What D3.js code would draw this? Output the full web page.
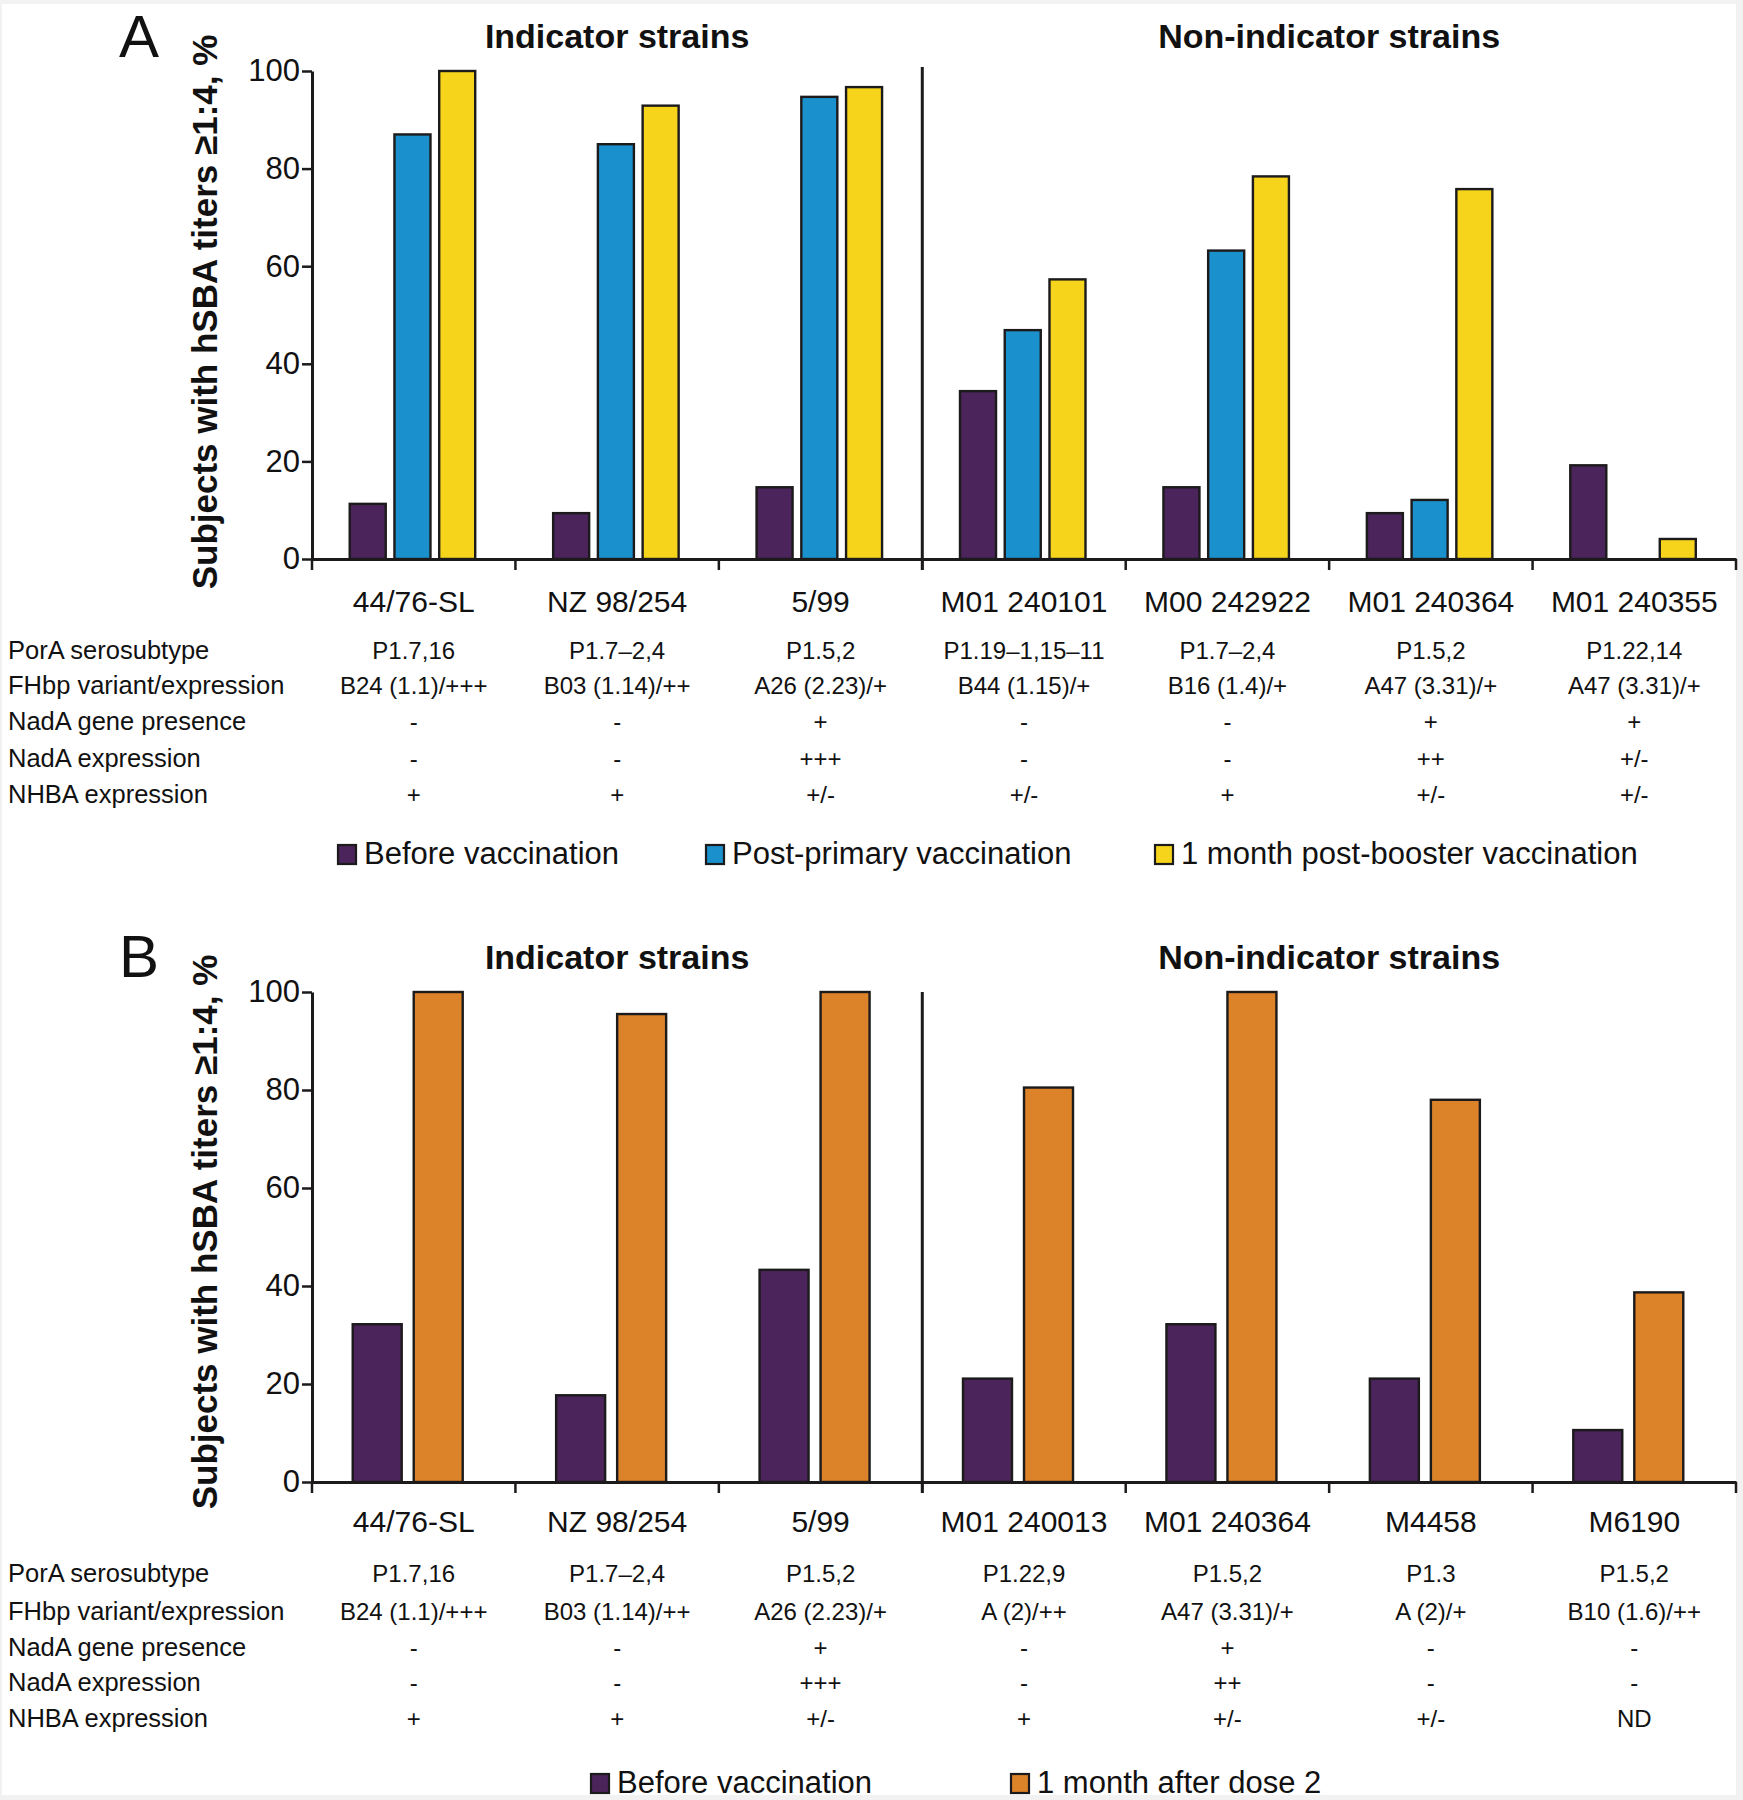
<!DOCTYPE html>
<html>
<head>
<meta charset="utf-8">
<script src="https://cdn.jsdelivr.net/npm/d3@7"></script>
<style>
  html, body { margin: 0; padding: 0; background: #ffffff; }
  svg { display: block; }
  text { font-family: "Liberation Sans", Arial, Helvetica, sans-serif; fill: #111; }
</style>
</head>
<body>
<svg id="chart" width="1743" height="1800"></svg>
<script>
// ---------------- DATA ----------------
const categoriesA = ["44/76-SL", "NZ 98/254", "5/99", "M01 240101", "M00 242922", "M01 240364", "M01 240355"];
const beforeA      = [11.3, 9.4, 14.7, 34.4, 14.7, 9.4, 19.2];
const postPrimaryA = [87.0, 85.0, 94.7, 46.9, 63.2, 12.1, null];
const boosterA     = [100, 92.9, 96.7, 57.3, 78.4, 75.8, 4.1];

const categoriesB = ["44/76-SL", "NZ 98/254", "5/99", "M01 240013", "M01 240364", "M4458", "M6190"];
const beforeB = [32.2, 17.7, 43.3, 21.1, 32.2, 21.1, 10.6];
const dose2B  = [100, 95.5, 100, 80.5, 100, 78.0, 38.7];

const rowLabels = ["PorA serosubtype", "FHbp variant/expression", "NadA gene presence", "NadA expression", "NHBA expression"];

const poraA   = ["P1.7,16", "P1.7\u20132,4", "P1.5,2", "P1.19\u20131,15\u201311", "P1.7\u20132,4", "P1.5,2", "P1.22,14"];
const fhbpA   = ["B24 (1.1)/+++", "B03 (1.14)/++", "A26 (2.23)/+", "B44 (1.15)/+", "B16 (1.4)/+", "A47 (3.31)/+", "A47 (3.31)/+"];
const nadaGeneA = ["-", "-", "+", "-", "-", "+", "+"];
const nadaExprA = ["-", "-", "+++", "-", "-", "++", "+/-"];
const nhbaA     = ["+", "+", "+/-", "+/-", "+", "+/-", "+/-"];

const poraB   = ["P1.7,16", "P1.7\u20132,4", "P1.5,2", "P1.22,9", "P1.5,2", "P1.3", "P1.5,2"];
const fhbpB   = ["B24 (1.1)/+++", "B03 (1.14)/++", "A26 (2.23)/+", "A (2)/++", "A47 (3.31)/+", "A (2)/+", "B10 (1.6)/++"];
const nadaGeneB = ["-", "-", "+", "-", "+", "-", "-"];
const nadaExprB = ["-", "-", "+++", "-", "++", "-", "-"];
const nhbaB     = ["+", "+", "+/-", "+", "+/-", "+/-", "ND"];

const yTicks = [0, 20, 40, 60, 80, 100];
const groupTitles = ["Indicator strains", "Non-indicator strains"];
const yLabel = "Subjects with hSBA titers \u22651:4, %";

const seriesA = [
  { name: "Before vaccination", values: beforeA, color: "#4a245b" },
  { name: "Post-primary vaccination", values: postPrimaryA, color: "#1a91cd" },
  { name: "1 month post-booster vaccination", values: boosterA, color: "#f6d41c" }
];
const seriesB = [
  { name: "Before vaccination", values: beforeB, color: "#4a245b" },
  { name: "1 month after dose 2", values: dose2B, color: "#dc8228" }
];

// ---------------- DRAW ----------------
const svg = d3.select("#chart");
svg.append("rect").attr("width", 1743).attr("height", 1800).attr("fill", "#f2f2f2");
svg.append("rect").attr("x", 2).attr("y", 4).attr("width", 1734).attr("height", 1791).attr("fill", "#ffffff");

const X0 = 312, X1 = 1736;
const INK = "#1c1a1b";

function panel(opts) {
  const { letter, letterY, top, bottom, cats, series, innerRange, barPad, rows, rowOffsets,
          catLabelOffset, legendX, legendY, titleY, dividerTop, yLabelCenter } = opts;
  const g = svg.append("g");

  const x = d3.scaleBand().domain(cats).range([X0, X1]).paddingInner(0).paddingOuter(0);
  const y = d3.scaleLinear().domain([0, 100]).range([bottom, top]);
  const bw = x.bandwidth();
  const xi = d3.scaleBand().domain(series.map(s => s.name))
    .range([bw / 2 + innerRange[0], bw / 2 + innerRange[1]])
    .paddingInner(barPad).paddingOuter(0);

  // panel letter
  g.append("text").attr("x", 119).attr("y", letterY)
    .style("font-size", "60px").text(letter);

  // group titles
  const indMid = (x(cats[0]) + x(cats[2]) + bw) / 2;
  const nonMid = (x(cats[3]) + x(cats[6]) + bw) / 2;
  [[groupTitles[0], indMid], [groupTitles[1], nonMid]].forEach(([t, cx]) => {
    g.append("text").attr("x", cx).attr("y", titleY).attr("text-anchor", "middle")
      .style("font-size", "34px").style("font-weight", "bold").text(t);
  });

  // bars
  series.forEach(s => {
    g.append("g").selectAll("rect")
      .data(cats.map((c, i) => ({ c, v: s.values[i] })).filter(d => d.v !== null && d.v !== undefined))
      .join("rect")
      .attr("x", d => x(d.c) + xi(s.name))
      .attr("width", xi.bandwidth())
      .attr("y", d => y(d.v))
      .attr("height", d => y(0) - y(d.v))
      .attr("fill", s.color)
      .attr("stroke", INK)
      .attr("stroke-width", 2.4);
  });

  // y axis
  const yAxis = d3.axisLeft(y).tickValues(yTicks).tickSize(10).tickPadding(2).tickSizeOuter(0);
  const ya = g.append("g").attr("transform", `translate(${X0},0)`).call(yAxis);
  ya.select(".domain").attr("stroke", INK).attr("stroke-width", 3);
  ya.selectAll(".tick line").attr("stroke", INK).attr("stroke-width", 2.5);
  ya.selectAll(".tick text").style("font-size", "31px").attr("fill", "#111")
    .style("font-family", "\"Liberation Sans\", Arial, sans-serif");

  // x axis (baseline + category labels)
  const xAxis = d3.axisBottom(x).tickSize(0).tickSizeOuter(0);
  const xa = g.append("g").attr("transform", `translate(0,${y(0)})`).call(xAxis);
  xa.select(".domain").attr("stroke", INK).attr("stroke-width", 3.2);
  xa.selectAll(".tick text").attr("y", catLabelOffset).attr("dy", 0)
    .style("font-size", "30px").attr("fill", "#111")
    .style("font-family", "\"Liberation Sans\", Arial, sans-serif");

  // group separator ticks below axis
  const bounds = cats.map(c => x(c)).concat([x.range()[1]]);
  g.append("g").selectAll("line").data(bounds).join("line")
    .attr("x1", d => d).attr("x2", d => d)
    .attr("y1", y(0)).attr("y2", y(0) + 11)
    .attr("stroke", INK).attr("stroke-width", 2.5);

  // divider between indicator and non-indicator strains
  const dx = x(cats[3]);
  g.append("line").attr("x1", dx).attr("x2", dx)
    .attr("y1", dividerTop).attr("y2", y(0) + 11)
    .attr("stroke", INK).attr("stroke-width", 3);

  // y label
  g.append("text")
    .attr("transform", `translate(217,${yLabelCenter}) rotate(-90)`)
    .attr("text-anchor", "middle")
    .style("font-size", "35px").style("font-weight", "bold")
    .text(yLabel);

  // table rows
  rowLabels.forEach((lab, r) => {
    const yy = y(0) + rowOffsets[r];
    g.append("text").attr("x", 8).attr("y", yy).style("font-size", "25.5px").text(lab);
    g.append("g").selectAll("text").data(cats).join("text")
      .attr("x", c => x(c) + bw / 2).attr("y", yy)
      .attr("text-anchor", "middle").style("font-size", "24px")
      .text((c, i) => rows[r][i]);
  });

  // legend
  series.forEach((s, i) => {
    const lx = legendX[i];
    g.append("rect").attr("x", lx).attr("y", legendY - 19).attr("width", 18).attr("height", 19)
      .attr("fill", s.color).attr("stroke", INK).attr("stroke-width", 2.2);
    g.append("text").attr("x", lx + 26).attr("y", legendY)
      .style("font-size", "31px").text(s.name);
  });
}

panel({
  letter: "A", letterY: 57, top: 71, bottom: 559, cats: categoriesA, series: seriesA,
  innerRange: [-64, 61.5], barPad: 0.195,
  rows: [poraA, fhbpA, nadaGeneA, nadaExprA, nhbaA],
  rowOffsets: [100, 135, 171, 208, 244],
  catLabelOffset: 53, legendX: [338, 706, 1155], legendY: 864, titleY: 48, dividerTop: 67,
  yLabelCenter: 312
});

panel({
  letter: "B", letterY: 977, top: 992, bottom: 1482, cats: categoriesB, series: seriesB,
  innerRange: [-61, 49], barPad: 0.197,
  rows: [poraB, fhbpB, nadaGeneB, nadaExprB, nhbaB],
  rowOffsets: [100, 138, 174, 209, 245],
  catLabelOffset: 50, legendX: [591, 1011], legendY: 1793, titleY: 969, dividerTop: 992,
  yLabelCenter: 1232
});
</script>
</body>
</html>
